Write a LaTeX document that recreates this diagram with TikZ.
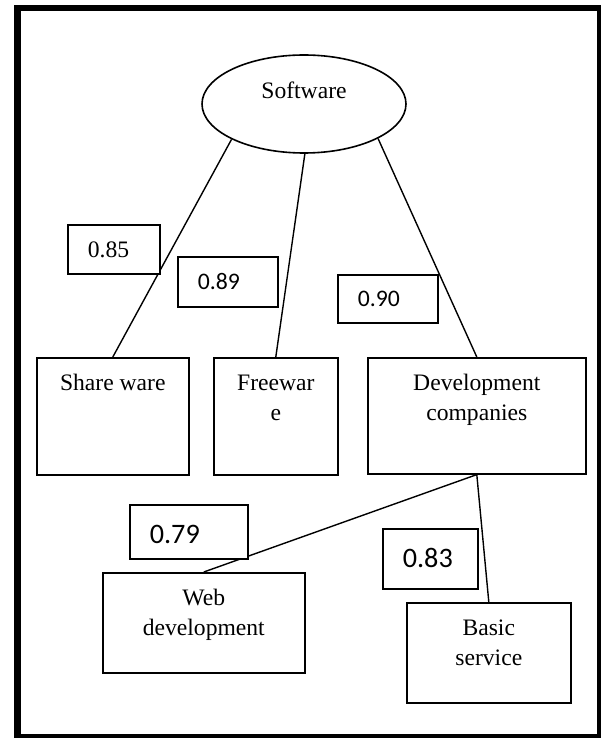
\documentclass[tikz,border=0pt]{standalone}
\usepackage{fontspec}
\setmainfont{Liberation Serif}
\newfontfamily\calib{Carlito}
\usetikzlibrary{shapes.geometric}
\newcommand\mytxt[3]{\parbox[b][#2][t]{#1}{\centering #3\par}}
\newcommand\numtxt[4]{\parbox[b][#2][t]{#1}{\raggedright\hspace*{20pt}\rule{0pt}{#3}#4\par}}
\begin{document}
\begin{tikzpicture}[x=1pt,y=-1pt,
  every node/.style={font=\fontsize{23.6}{30}\selectfont},
  boxn/.style={draw, line width=1.6pt, inner sep=0pt, anchor=north west, fill=white},
  numn/.style={boxn},
  calibsmall/.style={font=\calib\fontsize{23.7}{30}\selectfont},
  caliblarge/.style={font=\calib\fontsize{28.2}{34}\selectfont},
  link/.style={line width=1.4pt}]
\useasboundingbox (0,0) rectangle (601,738);
\begin{scope}
  \clip (0,0) rectangle (601,738);
  \draw[line width=6.5pt] (17.5,8) rectangle (600.5,737);
\end{scope}

% top ellipse
\node[ellipse, draw, line width=1.6pt, minimum width=204pt, minimum height=98pt,
      inner sep=0pt, text height=10pt, text depth=20pt] (soft) at (304,104) {Software};

% second row boxes
\node[boxn] (share) at (36,357) {\mytxt{152pt}{117pt}{\rule{0pt}{33pt}Share ware}};
\node[boxn] (free) at (213,357) {\mytxt{124pt}{117pt}{\rule{0pt}{33pt}Freewar\\e}};
\node[boxn] (dev) at (367,357) {\mytxt{218pt}{116pt}{\rule{0pt}{33pt}Development\\companies}};

% third row boxes
\node[boxn] (web) at (102,572) {\mytxt{202pt}{100pt}{\rule{0pt}{33pt}Web\\development}};
\node[boxn] (basic) at (406,602) {\mytxt{164pt}{100pt}{\rule{0pt}{33pt}Basic\\service}};

% connectors
\draw[link] (soft.206.6) -- (share.north);
\draw[link] (soft.271) -- (free.north);
\draw[link] (soft.335) -- (dev.north);
\draw[link] (dev.south) -- (web.north);
\draw[link] (dev.south) -- (basic.north);

% weight boxes
\node[numn] (n85) at (67,224) {\numtxt{92pt}{49pt}{33pt}{0.85}};
\node[numn, calibsmall] (n89) at (177,256) {\numtxt{100pt}{50pt}{33pt}{0.89}};
\node[numn, calibsmall] (n90) at (337,274) {\numtxt{100pt}{48pt}{32pt}{0.90}};
\node[numn, caliblarge] (n79) at (129,504) {\numtxt{118pt}{54pt}{39pt}{0.79}};
\node[numn, caliblarge] (n83) at (382,528) {\numtxt{95pt}{60pt}{39pt}{0.83}};
\end{tikzpicture}
\end{document}
